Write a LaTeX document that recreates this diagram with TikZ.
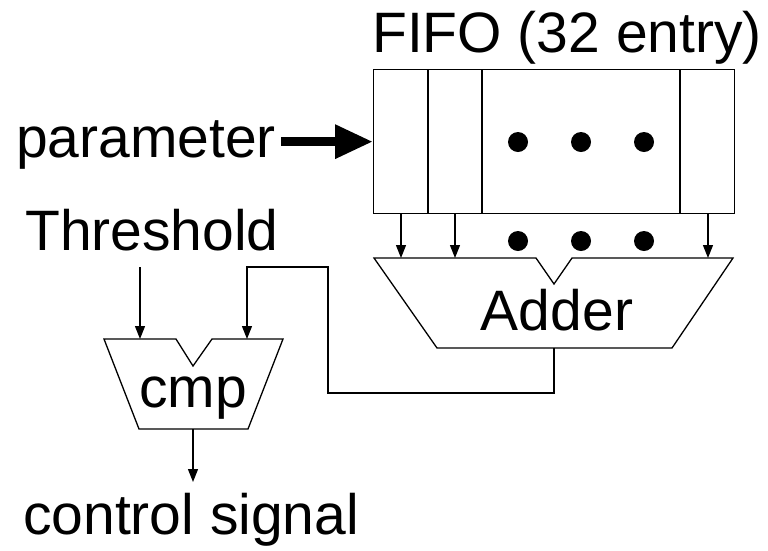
\documentclass[tikz,border=0pt]{standalone}
\usepackage{fontspec}
\setmainfont{Liberation Sans}
\usepackage{tikz}
\usetikzlibrary{arrows.meta,positioning}

\begin{document}
\begin{tikzpicture}[x=1pt, y=-1pt,
    label/.style={inner sep=0pt, font=\fontsize{57}{61}\selectfont},
    block/.style={draw, line width=1.3pt},
    wire/.style={-{Triangle[length=13pt,width=10pt]}, line width=1.3pt},
    bigarrow/.style={-{Triangle[length=38pt,width=32pt]}, line width=9pt},
    dot/.style={circle, fill, inner sep=0pt, minimum size=20pt}]

    \useasboundingbox (0,0) rectangle (768,550);

    % FIFO
    \node[label, anchor=base] (title) at (567,52) {FIFO (32 entry)};
    \node[block, anchor=north west, inner sep=0pt, minimum width=361pt, minimum height=144pt] (fifo) at (373,69) {};
    \foreach \x in {428,482,680}
        \draw[block] (fifo.north -| \x,0) -- (fifo.south -| \x,0);
    \foreach \x in {518,581,644} {
        \node[dot] at (\x,142) {};
        \node[dot] at (\x,241) {};
    }

    \node[label, anchor=base west] (param) at (16,157) {parameter};
    \draw[bigarrow] ([xshift=5pt]param.east |- fifo.west) -- (fifo.west);

    % adder
    \draw[block] (374,258) -- (536,258) -- (554,284) -- (572,258) -- (733,258)
        -- (672,348) -- (437,348) -- cycle;
    \node[label, anchor=base] (adder) at (557,330) {Adder};
    \coordinate (addout) at (554,348);
    \foreach \x [count=\i] in {401,455,708} {
        \coordinate (addin\i) at (\x,258);
        \draw[wire] (fifo.south -| addin\i) -- (addin\i);
    }

    % comparator
    \node[label, anchor=base west] (thr) at (25,250) {Threshold};
    \draw[block] (104,339) -- (176,339) -- (193,366) -- (212,339) -- (283,339)
        -- (248,429) -- (139,429) -- cycle;
    \node[label, anchor=base] (cmp) at (193,407) {cmp};
    \coordinate (cmpinA) at (140,339);
    \coordinate (cmpinB) at (247,339);
    \coordinate (cmpout) at (193,429);
    \coordinate (bend) at (328,393);

    \draw[wire] (cmpinA |- 0,267) -- (cmpinA);
    \draw[wire] (addout) |- (bend) |- (cmpinB |- 0,267) -- (cmpinB);

    \node[label, anchor=base west] (ctrl) at (23,534) {control signal};
    \draw[wire] (cmpout) -- (cmpout |- 0,482);
\end{tikzpicture}
\end{document}
